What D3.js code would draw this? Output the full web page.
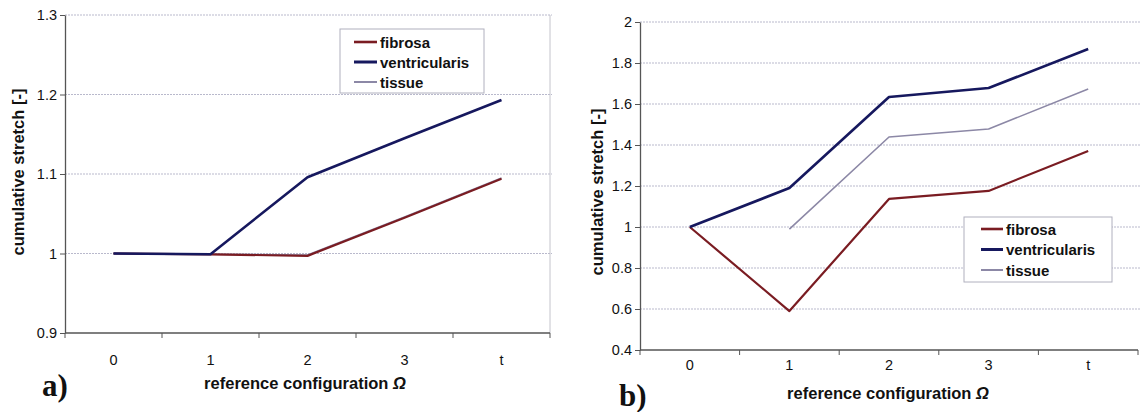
<!DOCTYPE html>
<html><head><meta charset="utf-8">
<script src="https://cdn.jsdelivr.net/npm/d3@7"></script>
<style>
html,body{margin:0;padding:0;background:#fff;}
svg{display:block;font-family:"Liberation Sans",Arial,sans-serif;}
</style></head>
<body><svg id="c" width="1140" height="412"></svg>
<script>
// ---- data ----
const categories = ["0","1","2","3","t"];
const seriesNames = ["fibrosa","ventricularis","tissue"];
// panel a
const aFibrosa       = [1.000, 0.999, 0.997, 1.045, 1.094];
const aVentricularis = [1.000, 0.999, 1.096, 1.145, 1.193];
const aTissue        = [1.000, 0.999, 0.998, 1.046, 1.095];
const aTicks = [0.9, 1, 1.1, 1.2, 1.3];
const aTickLabels = ["0.9","1","1.1","1.2","1.3"];
// panel b
const bFibrosa       = [1.000, 0.590, 1.137, 1.176, 1.371];
const bVentricularis = [1.000, 1.190, 1.634, 1.678, 1.868];
const bTissue        = [null, 0.990, 1.439, 1.478, 1.673];
const bTicks = [0.4, 0.6, 0.8, 1, 1.2, 1.4, 1.6, 1.8, 2];
const bTickLabels = ["0.4","0.6","0.8","1","1.2","1.4","1.6","1.8","2"];

const xTitleMain = "reference configuration ";
const xTitleSym = "\u03A9";
const yTitle = "cumulative stretch [-]";

const colors = {fibrosa:"#7a1c22", ventricularis:"#16185e", tissue:"#8c88a6"};
const widths = {fibrosa:2.2, ventricularis:2.6, tissue:1.6};

const svg = d3.select("#c");

function panel(cfg){
  const g = svg.append("g");
  const x = d3.scaleBand().domain(categories).range([cfg.x0, cfg.x1]);
  const y = d3.scaleLinear().domain([cfg.ticks[0], cfg.ticks[cfg.ticks.length-1]]).range([cfg.y1, cfg.y0]);

  // gridlines
  g.append("g").selectAll("line").data(cfg.ticks.slice(1)).join("line")
    .attr("x1", cfg.x0).attr("x2", cfg.gridEnd)
    .attr("y1", d=>y(d)).attr("y2", d=>y(d))
    .attr("stroke", "#b9b9cc").attr("stroke-width", 1).attr("stroke-dasharray","2,1");
  if (cfg.rightBorder) {
    g.append("line").attr("x1", cfg.x1).attr("x2", cfg.x1).attr("y1", y(cfg.ticks[cfg.ticks.length-1])).attr("y2", cfg.y1)
      .attr("stroke", "#c4c4cc").attr("stroke-width", 1);
  }

  // y axis
  const yAxis = d3.axisLeft(y).tickValues(cfg.ticks).tickFormat((d,i)=>cfg.tickLabels[i]).tickSize(5).tickSizeOuter(0);
  const ya = g.append("g").attr("transform", `translate(${cfg.x0},0)`).call(yAxis);
  ya.select(".domain").attr("stroke", "#555").attr("stroke-width", 1.3);
  ya.selectAll(".tick line").attr("stroke", "#555");
  ya.selectAll(".tick text").attr("font-size", 14.5).attr("fill", "#111")
    .attr("font-family", '"Liberation Sans",Arial,sans-serif').attr("x", -8);

  // x axis (ticks between categories)
  const xa = g.append("g").attr("transform", `translate(0,${cfg.y1})`);
  xa.append("line").attr("x1", cfg.x0).attr("x2", cfg.x1).attr("stroke", "#555").attr("stroke-width", 1.3);
  const edges = categories.map(c=>x(c)).concat([x(categories[categories.length-1]) + x.bandwidth()]);
  xa.selectAll("line.tk").data(edges).join("line").attr("class","tk")
    .attr("x1", d=>d).attr("x2", d=>d).attr("y1", 0).attr("y2", 5).attr("stroke", "#555");
  xa.selectAll("text").data(categories).join("text")
    .attr("x", d=>x(d)+x.bandwidth()/2).attr("y", cfg.xLabelDy)
    .attr("text-anchor","middle").attr("font-size", 14.5).attr("fill","#111").text(d=>d);

  // axis titles
  const xt = g.append("text").attr("x", cfg.xTitleX).attr("y", cfg.xTitleY).attr("text-anchor","middle")
    .attr("font-size", 16.5).attr("font-weight","bold").attr("fill","#111");
  xt.append("tspan").text(xTitleMain);
  xt.append("tspan").attr("font-style","italic").text(xTitleSym);
  g.append("text").attr("transform", `translate(${cfg.yTitleX},${cfg.yTitleY}) rotate(-90)`)
    .attr("text-anchor","middle").attr("dominant-baseline","central")
    .attr("font-size", 16.5).attr("font-weight","bold").attr("fill","#111").text(yTitle);

  // panel letter
  g.append("text").attr("x", cfg.letterX).attr("y", cfg.letterY)
    .attr("font-family", '"Liberation Serif","Times New Roman",serif').attr("font-size", 31)
    .attr("font-weight","bold").attr("fill","#111").text(cfg.letter);

  // lines
  const line = d3.line().defined(d=>d!=null).x((d,i)=>x(categories[i])+x.bandwidth()/2).y(d=>y(d));
  cfg.order.forEach(name=>{
    g.append("path").datum(cfg.series[name]).attr("d", line)
      .attr("fill","none").attr("stroke", colors[name]).attr("stroke-width", widths[name])
      .attr("stroke-linejoin","round");
  });

  // legend
  const L = cfg.legend;
  const lg = g.append("g");
  lg.append("rect").attr("x", L.x).attr("y", L.y).attr("width", L.w).attr("height", L.h)
    .attr("fill","#fff").attr("stroke","#b0b0be").attr("stroke-width",1);
  seriesNames.forEach((name,i)=>{
    const yy = L.y + L.first + i*L.step;
    lg.append("line").attr("x1", L.x+L.lx0).attr("x2", L.x+L.lx1).attr("y1", yy).attr("y2", yy)
      .attr("stroke", colors[name]).attr("stroke-width", widths[name]+0.4);
    lg.append("text").attr("x", L.x+L.tx).attr("y", yy).attr("dominant-baseline","central")
      .attr("font-size", 15).attr("font-weight","bold").attr("fill","#111").text(name);
  });
}

panel({
  x0:65, x1:550, y0:15, y1:333, gridEnd:552, rightBorder:true,
  ticks:aTicks, tickLabels:aTickLabels, xLabelDy:32,
  xTitleX:305, xTitleY:389, yTitleX:18, yTitleY:172,
  letter:"a)", letterX:42, letterY:396,
  series:{fibrosa:aFibrosa, ventricularis:aVentricularis, tissue:aTissue},
  order:["tissue","fibrosa","ventricularis"],
  legend:{x:340, y:29, w:144, h:64, first:13, step:20, lx0:14, lx1:37, tx:40}
});

panel({
  x0:640, x1:1138, y0:22, y1:350, gridEnd:1140, rightBorder:false,
  ticks:bTicks, tickLabels:bTickLabels, xLabelDy:20,
  xTitleX:888, xTitleY:399, yTitleX:597, yTitleY:192,
  letter:"b)", letterX:619, letterY:406,
  series:{fibrosa:bFibrosa, ventricularis:bVentricularis, tissue:bTissue},
  order:["tissue","fibrosa","ventricularis"],
  legend:{x:964, y:217, w:148, h:65, first:12, step:20.5, lx0:17, lx1:39, tx:42}
});
</script>
</body></html>
